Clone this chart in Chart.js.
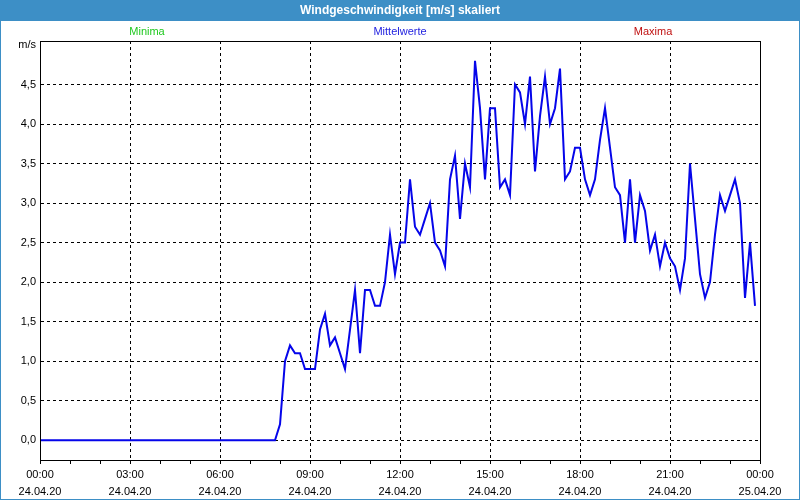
<!DOCTYPE html>
<html>
<head>
<meta charset="utf-8">
<title>Windgeschwindigkeit [m/s] skaliert</title>
<script src="https://cdn.jsdelivr.net/npm/chart.js@4.4.1/dist/chart.umd.min.js"></script>
<style>
  html, body { margin: 0; padding: 0; background: #fff; }
  canvas { display: block; }
</style>
</head>
<body>
<canvas id="chart" width="800" height="500"></canvas>
<script>
// Chart data -------------------------------------------------------------
const chartTitle   = 'Windgeschwindigkeit [m/s] skaliert';
const unitLabel    = 'm/s';
const seriesNames  = ['Minima', 'Mittelwerte', 'Maxima'];
const seriesColors = ['#1fc81f', '#2222e0', '#c01010'];

// x axis: hours since 24.04.20 00:00, labelled every 3 hours
const hourTicks  = [0, 1, 2, 3, 4, 5, 6, 7, 8, 9, 10, 11, 12, 13, 14, 15, 16, 17, 18, 19, 20, 21, 22, 23, 24];
const xTickTimes = ['00:00', '03:00', '06:00', '09:00', '12:00', '15:00', '18:00', '21:00', '00:00'];
const xTickDates = ['24.04.20', '24.04.20', '24.04.20', '24.04.20', '24.04.20', '24.04.20', '24.04.20', '24.04.20', '25.04.20'];

// y axis (the top tick carries the unit)
const yTickValues = [0, 0.5, 1, 1.5, 2, 2.5, 3, 3.5, 4, 4.5, 5];

// Mittelwerte, one value per 10 minutes (00:00 ... 23:50)
const windMean = [
  // 00:00 - 07:50
  0, 0, 0, 0, 0, 0, 0, 0, 0, 0, 0, 0,
  0, 0, 0, 0, 0, 0, 0, 0, 0, 0, 0, 0,
  0, 0, 0, 0, 0, 0, 0, 0, 0, 0, 0, 0,
  0, 0, 0, 0, 0, 0, 0, 0, 0, 0, 0, 0,
  // 08:00 - 09:50
  0.2, 1.0, 1.2, 1.1, 1.1, 0.9, 0.9, 0.9, 1.4, 1.6, 1.2, 1.3,
  // 10:00 - 11:50
  1.1, 0.9, 1.4, 1.9, 1.1, 1.9, 1.9, 1.7, 1.7, 2.0, 2.6, 2.1,
  // 12:00 - 13:50
  2.5, 2.5, 3.3, 2.7, 2.6, 2.8, 3.0, 2.5, 2.4, 2.2, 3.3, 3.6,
  // 14:00 - 15:50
  2.8, 3.5, 3.2, 4.8, 4.2, 3.3, 4.2, 4.2, 3.2, 3.3, 3.1, 4.5,
  // 16:00 - 17:50
  4.4, 4.0, 4.6, 3.4, 4.1, 4.6, 4.0, 4.2, 4.7, 3.3, 3.4, 3.7,
  // 18:00 - 19:50
  3.7, 3.3, 3.1, 3.3, 3.8, 4.2, 3.7, 3.2, 3.1, 2.5, 3.3, 2.5,
  // 20:00 - 21:50
  3.1, 2.9, 2.4, 2.6, 2.2, 2.5, 2.3, 2.2, 1.9, 2.3, 3.5, 2.8,
  // 22:00 - 23:50
  2.1, 1.8, 2.0, 2.6, 3.1, 2.9, 3.1, 3.3, 3.0, 1.8, 2.5, 1.7
];

// Styling ----------------------------------------------------------------
const barColor  = '#3d8fc6';
const lineColor = '#0505ea';
const fontFamily = '"Liberation Sans", Arial, sans-serif';

const meanPoints = windMean.map((v, i) => ({ x: i / 6, y: v }));

// Title bar, series names, plot frame and outer border
const decorPlugin = {
  id: 'decor',
  beforeDraw(chart) {
    const { ctx, width } = chart;
    ctx.save();
    ctx.fillStyle = '#fff';
    ctx.fillRect(0, 0, width, chart.height);
    ctx.fillStyle = barColor;
    ctx.fillRect(0, 0, width, 21);

    ctx.textAlign = 'center';
    ctx.textBaseline = 'middle';
    ctx.fillStyle = '#fff';
    ctx.font = 'bold 12px ' + fontFamily;
    ctx.fillText(chartTitle, width / 2, 11);

    ctx.font = '11px ' + fontFamily;
    const centers = [width / 2 - 253, width / 2, width / 2 + 253];
    seriesNames.forEach((name, i) => {
      ctx.fillStyle = seriesColors[i];
      ctx.fillText(name, centers[i], 32);
    });
    ctx.restore();
  },
  afterDraw(chart) {
    const { ctx, chartArea: a, width, height } = chart;
    ctx.save();
    ctx.lineWidth = 1;
    ctx.strokeStyle = '#000';
    ctx.strokeRect(Math.round(a.left) + 0.5, Math.round(a.top) + 0.5,
                   Math.round(a.right - a.left), Math.round(a.bottom - a.top));
    ctx.strokeStyle = barColor;
    ctx.strokeRect(0.5, 0.5, width - 1, height - 1);
    ctx.restore();
  }
};

new Chart(document.getElementById('chart'), {
  type: 'line',
  data: {
    datasets: [{
      label: seriesNames[1],
      data: meanPoints,
      borderColor: lineColor,
      borderWidth: 2,
      pointRadius: 0,
      tension: 0,
      fill: false
    }]
  },
  options: {
    responsive: false,
    animation: false,
    devicePixelRatio: 1,
    layout: { padding: { top: 41, right: 40, left: 0, bottom: 0 } },
    plugins: {
      legend:  { display: false },
      title:   { display: false },
      tooltip: { enabled: false }
    },
    scales: {
      x: {
        type: 'linear',
        min: 0,
        max: 24,
        afterBuildTicks: s => { s.ticks = hourTicks.map(v => ({ value: v })); },
        afterFit: s => { s.height = 40; },
        grid: {
          color: c => (c.tick && c.tick.value % 3 === 0) ? '#000' : 'rgba(0,0,0,0)',
          tickColor: '#000',
          tickLength: 4,
          lineWidth: 1
        },
        border: { display: true, color: '#000', dash: [3, 3] },
        ticks: {
          autoSkip: false,
          maxRotation: 0,
          padding: 3,
          color: '#000',
          font: { family: fontFamily, size: 11, lineHeight: 1.5 },
          callback: v => (v % 3 === 0) ? [xTickTimes[v / 3], xTickDates[v / 3]] : ''
        }
      },
      y: {
        type: 'linear',
        min: -0.25,
        max: 5.05,
        afterBuildTicks: s => { s.ticks = yTickValues.map(v => ({ value: v })); },
        afterFit: s => { s.width = 40; },
        grid: {
          color: c => (c.tick && c.tick.value <= 4.5) ? '#000' : 'rgba(0,0,0,0)',
          drawTicks: false,
          lineWidth: 1
        },
        border: { display: true, color: '#000', dash: [3, 3] },
        ticks: {
          padding: 4,
          color: '#000',
          font: { family: fontFamily, size: 11 },
          callback: v => (v > 4.5) ? unitLabel : v.toFixed(1).replace('.', ',')
        }
      }
    }
  },
  plugins: [decorPlugin]
});
</script>
</body>
</html>
